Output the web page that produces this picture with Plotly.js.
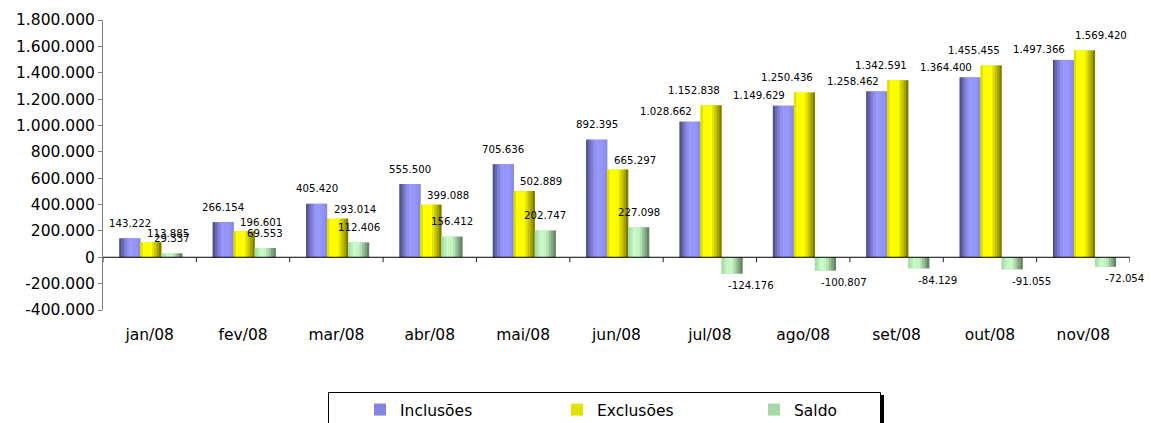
<!DOCTYPE html>
<html>
<head>
<meta charset="utf-8">
<script src="https://cdn.plot.ly/plotly-3.0.1.min.js"></script>
<style>html,body{margin:0;padding:0;background:#fff;}#chart{width:1151px;height:423px;}</style>
</head>
<body>
<div id="chart"></div>
<script>
// ---- data ----
const categories = ['jan/08','fev/08','mar/08','abr/08','mai/08','jun/08','jul/08','ago/08','set/08','out/08','nov/08'];
const inclusoes = [143222, 266154, 405420, 555500, 705636, 892395, 1028662, 1149629, 1258462, 1364400, 1497366];
const exclusoes = [113885, 196601, 293014, 399088, 502889, 665297, 1152838, 1250436, 1342591, 1455455, 1569420];
const saldo = [29337, 69553, 112406, 156412, 202747, 227098, -124176, -100807, -84129, -91055, -72054];
const seriesNames = ['Inclusões', 'Exclusões', 'Saldo'];
const yTickVals = [-400000, -200000, 0, 200000, 400000, 600000, 800000, 1000000, 1200000, 1400000, 1600000, 1800000];

// ---- helpers ----
function fmt(v) {
  const s = Math.abs(Math.round(v)).toString().replace(/\B(?=(\d{3})+(?!\d))/g, '.');
  return (v < 0 ? '-' : '') + s;
}
function hex2rgb(h) { h = h.replace('#',''); return [0,2,4].map(i => parseInt(h.substr(i,2),16)); }
function interp(stops, t) {
  for (let i = 0; i < stops.length - 1; i++) {
    const [t0, c0] = stops[i], [t1, c1] = stops[i+1];
    if (t >= t0 && t <= t1) {
      const f = (t - t0) / (t1 - t0 || 1);
      const a = hex2rgb(c0), b = hex2rgb(c1);
      return 'rgb(' + a.map((x, k) => Math.round(x + (b[k]-x)*f)).join(',') + ')';
    }
  }
  return stops[stops.length-1][1];
}

// ---- styles ----
const FONT = 'DejaVu Sans, Arial, sans-serif';
const gradients = [
  [[0,'#46466f'],[0.22,'#7676c8'],[0.45,'#9999ff'],[0.8,'#9696fa'],[1,'#8585e0']],
  [[0,'#c4c400'],[0.12,'#ffff00'],[0.5,'#ffff00'],[0.8,'#b0b000'],[1,'#6a6a00']],
  [[0,'#a4d4a4'],[0.3,'#ccffcc'],[0.55,'#c2f2c2'],[1,'#587558']]
];
const legendColors = ['#8484e6', '#e2e200', '#a8d8a8'];
const BW = 0.225, GROUP0 = -0.325, NSTRIP = 9;
const seriesData = [inclusoes, exclusoes, saldo];

const traces = [];
seriesData.forEach((vals, s) => {
  const base = GROUP0 + s * BW;
  traces.push({
    type: 'bar', name: seriesNames[s], x: categories, y: vals,
    offset: base, width: BW, marker: {color: legendColors[s], line: {width: 0}},
    hoverinfo: 'skip', showlegend: true, legendrank: s
  });
  for (let k = 0; k < NSTRIP; k++) {
    traces.push({
      type: 'bar', x: categories, y: vals, showlegend: false, hoverinfo: 'skip',
      offset: base + k * BW / NSTRIP, width: BW / NSTRIP * 1.04,
      marker: {color: interp(gradients[s], (k + 0.5) / NSTRIP), line: {width: 0}}
    });
  }
});

// ---- data labels ----
const yMin = -400000, yMax = 1800000, plotH = 290;
const pxPerUnit = plotH / (yMax - yMin);
const annotations = [];
categories.forEach((c, i) => {
  const neg = saldo[i] < 0;
  const incShift = neg ? 10 : 15;
  annotations.push({x: i + GROUP0 + BW*0.5, y: inclusoes[i], text: fmt(inclusoes[i]),
    xshift: neg ? -24 : 0, yshift: incShift});
  let exX = 17, exY = 9;
  if (neg) {
    exY = 15;
    const sep = (exclusoes[i] - inclusoes[i]) * pxPerUnit + exY - incShift;
    exX = sep < 15 ? 17 : -17;
  }
  annotations.push({x: i + GROUP0 + BW*1.5, y: exclusoes[i], text: fmt(exclusoes[i]),
    xshift: exX, yshift: exY});
  annotations.push({x: i + GROUP0 + BW*2.5, y: saldo[i], text: fmt(saldo[i]),
    xshift: neg ? 19 : 0, yshift: neg ? -12 : 15});
});
annotations.forEach(a => {
  a.xref = 'x'; a.yref = 'y'; a.showarrow = false; a.xanchor = 'center'; a.yanchor = 'middle';
  a.font = {family: FONT, size: 10.2, color: '#000'};
});

// ---- axis decorations ----
const shapes = [{type:'line', xref:'x', yref:'y', x0:-0.5, x1:categories.length-0.5, y0:0, y1:0,
  line:{color:'#000', width:1}, layer:'above'}];
for (let i = 0; i <= categories.length; i++) {
  shapes.push({type:'line', xref:'x', yref:'y', ysizemode:'pixel', yanchor:0,
    x0:i-0.5, x1:i-0.5, y0:0, y1:-5, line:{color:'#222', width:1}, layer:'above'});
}
const L = 103, T = 20, PW = 1027, PH = 290;
const px = v => (v - L) / PW, py = v => (T + PH - v) / PH;
shapes.push({type:'rect', xref:'paper', yref:'paper', x0:px(328.5), x1:px(880.5), y0:py(392.5), y1:py(430),
  line:{color:'#000', width:1}, fillcolor:'rgba(0,0,0,0)'});
shapes.push({type:'rect', xref:'paper', yref:'paper', x0:px(881), x1:px(884), y0:py(395), y1:py(430),
  line:{width:0}, fillcolor:'#000'});

const layout = {
  width: 1151, height: 423,
  margin: {l: L, r: 21, t: T, b: 113, autoexpand: false},
  paper_bgcolor: '#fff', plot_bgcolor: '#fff',
  barmode: 'overlay',
  showlegend: true,
  legend: {orientation: 'h', x: px(360), xanchor: 'left', y: py(393), yanchor: 'top',
    entrywidth: 152, entrywidthmode: 'pixels', bgcolor: 'rgba(0,0,0,0)', borderwidth: 0,
    font: {family: FONT, size: 15.5, color: '#000'}, traceorder: 'normal'},
  xaxis: {type: 'category', categoryorder: 'array', categoryarray: categories,
    range: [-0.5, categories.length - 0.5], showline: false, showgrid: false, zeroline: false,
    ticks: 'outside', ticklen: 10, tickcolor: 'rgba(0,0,0,0)',
    tickfont: {family: FONT, size: 15.5, color: '#000'}, fixedrange: true},
  yaxis: {range: [yMin, yMax], tickvals: yTickVals, ticktext: yTickVals.map(fmt),
    showline: true, linecolor: '#808080', linewidth: 1, ticks: 'outside', ticklen: 4,
    tickcolor: '#808080', showgrid: false, zeroline: false,
    tickfont: {family: FONT, size: 15.5, color: '#000'}, fixedrange: true},
  annotations: annotations,
  shapes: shapes
};

Plotly.newPlot('chart', traces, layout, {displayModeBar: false, staticPlot: true});
</script>
</body>
</html>
